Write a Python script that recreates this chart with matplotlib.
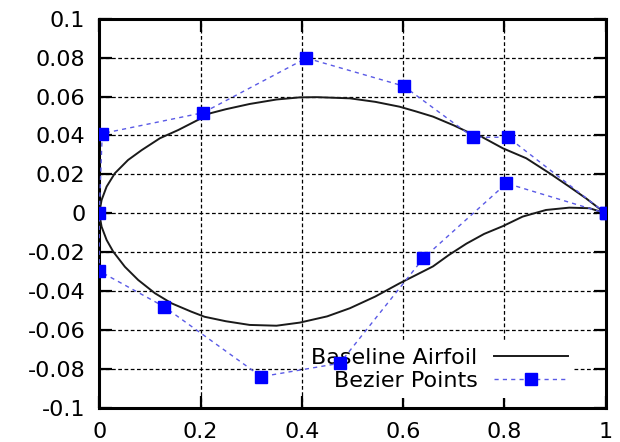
import matplotlib
matplotlib.use('Agg')
import matplotlib.pyplot as plt

plt.rcParams['font.family'] = ['DejaVu Sans']

# baseline airfoil, trailing edge -> upper surface -> leading edge -> lower surface
airfoil_x = [1.0, 0.991, 0.961, 0.928, 0.889, 0.843, 0.797, 0.751, 0.734, 0.70, 0.659, 0.625, 0.593,
             0.545, 0.495, 0.43, 0.396, 0.35, 0.297, 0.25, 0.219, 0.195, 0.156, 0.120,
             0.084, 0.057, 0.031, 0.0146, 0.0047, 0.0,
             0.0047, 0.0146, 0.0276, 0.0507, 0.077, 0.110, 0.143, 0.182, 0.208, 0.25,
             0.297, 0.35, 0.396, 0.45, 0.495, 0.545, 0.593, 0.625, 0.659, 0.69, 0.725, 0.76,
             0.797, 0.836, 0.882, 0.928, 0.968, 1.0]
airfoil_y = [0.0, 0.0017, 0.0077, 0.0137, 0.0206, 0.0283, 0.0334, 0.0399, 0.041, 0.0452, 0.0497, 0.0524, 0.0548,
             0.0573, 0.0591, 0.0597, 0.0596, 0.0585, 0.0562, 0.0535, 0.0514, 0.048, 0.0428, 0.0386,
             0.0325, 0.0274, 0.0206, 0.0137, 0.0068, 0.0,
             -0.0069, -0.0137, -0.0197, -0.0275, -0.0343, -0.0411, -0.0463, -0.0506, -0.0532, -0.0555,
             -0.0574, -0.0578, -0.0562, -0.053, -0.0488, -0.0428, -0.036, -0.0318, -0.0273, -0.0215, -0.0156, -0.0106,
             -0.0066, -0.0017, 0.0017, 0.0029, 0.0026, 0.0]

# bezier control points
bez_x = [1.0, 0.807, 0.738, 0.601, 0.409, 0.205, 0.006, 0.0,
         0.0, 0.128, 0.320, 0.475, 0.640, 0.804, 1.0]
bez_y = [0.0, 0.0391, 0.0391, 0.0654, 0.0798, 0.0517, 0.041, 0.0,
         -0.0297, -0.048, -0.084, -0.0771, -0.0231, 0.0154, 0.0]

xticks = [0, 0.2, 0.4, 0.6, 0.8, 1]
xlabels = ['0', '0.2', '0.4', '0.6', '0.8', '1']
yticks = [-0.1, -0.08, -0.06, -0.04, -0.02, 0, 0.02, 0.04, 0.06, 0.08, 0.1]
ylabels = ['-0.1', '-0.08', '-0.06', '-0.04', '-0.02', '0', '0.02', '0.04', '0.06', '0.08', '0.1']

fig = plt.figure(figsize=(6.2, 4.42), dpi=100)
ax = fig.add_axes([0.160, 0.0774, 0.817, 0.8801])

ax.plot(airfoil_x, airfoil_y, color='#1a1a1a', lw=1.4, label='Baseline Airfoil',
        solid_joinstyle='round', zorder=3)
ax.plot(bez_x, bez_y, color='#5a5ae6', lw=1.0, dashes=(3, 3), marker='s', markersize=9,
        markerfacecolor='#0000ff', markeredgecolor='#0000ff', label='Bezier Points', zorder=4)

ax.set_xlim(0, 1)
ax.set_ylim(-0.1, 0.1)
ax.set_xticks(xticks)
ax.set_xticklabels(xlabels)
ax.set_yticks(yticks)
ax.set_yticklabels(ylabels)
ax.tick_params(direction='in', length=9, width=1.6, labelsize=16,
               top=True, right=True, pad=10, colors='black')

ax.set_axisbelow(True)
ax.grid(True, color='black', lw=0.9, linestyle=(0, (3, 2)))
for s in ax.spines.values():
    s.set_linewidth(2.2)

leg = ax.legend(loc='lower right', bbox_to_anchor=(0.949, 0.012), markerfirst=False,
                fontsize=16, frameon=True, fancybox=False, framealpha=1,
                edgecolor='none', facecolor='white',
                handlelength=3.3, handletextpad=0.75, labelspacing=0.15,
                borderpad=0.3, borderaxespad=0.25)
leg.set_zorder(2)

fig.savefig('out.png', dpi=100)
